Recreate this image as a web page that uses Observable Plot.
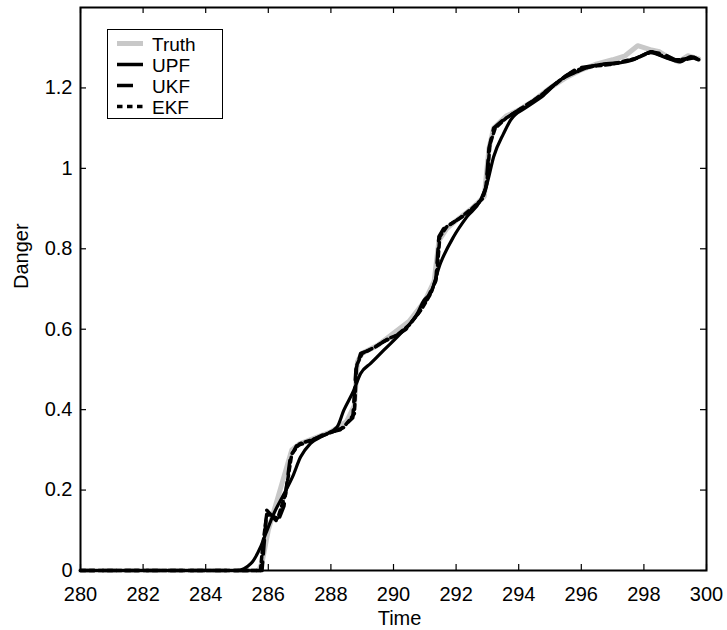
<!DOCTYPE html>
<html>
<head>
<meta charset="utf-8">
<script src="https://cdn.jsdelivr.net/npm/d3@7"></script>
<script src="https://cdn.jsdelivr.net/npm/@observablehq/plot@0.6"></script>
<style>
  html, body { margin: 0; padding: 0; background: #fff; }
  #wrap { position: relative; width: 727px; height: 630px; font-family: "Liberation Sans", Arial, sans-serif; }
  #legend { position: absolute; left: 107px; top: 29px; width: 114px; height: 88px; border: 1.5px solid #000; background: #fff; }
</style>
</head>
<body>
<div id="wrap"></div>
<script>
// ---- data ----
const xTicks = [280, 282, 284, 286, 288, 290, 292, 294, 296, 298, 300];
const yTicks = [0, 0.2, 0.4, 0.6, 0.8, 1, 1.2];
const yTickLabels = ["0", "0.2", "0.4", "0.6", "0.8", "1", "1.2"];

const seriesNames = ["Truth", "UPF", "UKF", "EKF"];

const truthT = [280, 285.7, 285.8, 286.0, 286.3, 286.6, 286.75, 287.0, 287.5, 288.0, 288.5, 288.75, 288.85, 289.0, 289.5, 290.0, 290.5, 291.0, 291.3, 291.45, 291.7, 292.0, 292.5, 292.9, 293.05, 293.2, 293.6, 294.0, 294.5, 295.0, 295.5, 296.0, 296.5, 297.0, 297.4, 297.8, 298.2, 298.5, 298.8, 299.1, 299.4, 299.75];
const truthV = [0, 0, 0.02, 0.1, 0.18, 0.26, 0.3, 0.315, 0.33, 0.345, 0.37, 0.41, 0.52, 0.54, 0.56, 0.59, 0.62, 0.67, 0.72, 0.82, 0.85, 0.87, 0.9, 0.93, 1.05, 1.1, 1.13, 1.145, 1.17, 1.2, 1.225, 1.245, 1.26, 1.27, 1.28, 1.305, 1.295, 1.29, 1.275, 1.265, 1.28, 1.272];

const upfT = [280, 285.0, 285.44, 285.75, 285.92, 286.18, 286.5, 286.77, 287.03, 287.35, 287.77, 288.2, 288.41, 288.73, 288.95, 289.27, 289.69, 290.22, 290.76, 290.97, 291.18, 291.5, 291.92, 292.35, 292.78, 292.99, 293.2, 293.52, 293.74, 294.27, 294.8, 295.33, 295.86, 296.5, 297.14, 297.67, 298.2, 298.74, 299.16, 299.5, 299.74];
const upfV = [0, 0, 0.017, 0.058, 0.092, 0.142, 0.19, 0.232, 0.282, 0.316, 0.336, 0.357, 0.398, 0.448, 0.49, 0.515, 0.548, 0.589, 0.639, 0.672, 0.689, 0.764, 0.83, 0.88, 0.921, 0.963, 1.029, 1.087, 1.12, 1.153, 1.182, 1.22, 1.24, 1.257, 1.261, 1.27, 1.288, 1.274, 1.265, 1.278, 1.271];

const ukfT = [280, 285.8, 285.85, 285.95, 286.3, 286.5, 286.7, 286.9, 287.3, 287.8, 288.3, 288.7, 288.8, 288.95, 289.3, 289.7, 290.0, 290.4, 290.8, 291.1, 291.35, 291.45, 291.6, 292.0, 292.4, 292.8, 292.95, 293.05, 293.2, 293.5, 294.0, 294.5, 295.0, 295.5, 295.9, 296.4, 296.8, 297.2, 297.7, 298.2, 298.6, 299.0, 299.3, 299.6, 299.75];
const ukfV = [0, 0, 0.05, 0.15, 0.12, 0.16, 0.28, 0.31, 0.32, 0.34, 0.35, 0.38, 0.5, 0.54, 0.55, 0.57, 0.58, 0.6, 0.64, 0.68, 0.72, 0.83, 0.85, 0.87, 0.89, 0.92, 0.95, 1.05, 1.1, 1.12, 1.145, 1.17, 1.2, 1.23, 1.25, 1.255, 1.26, 1.262, 1.272, 1.29, 1.285, 1.27, 1.27, 1.275, 1.27];

const ekfT = [280, 285.75, 285.82, 285.95, 286.3, 286.55, 286.75, 287.0, 287.4, 287.9, 288.4, 288.75, 288.82, 289.0, 289.4, 289.8, 290.1, 290.5, 290.9, 291.2, 291.38, 291.48, 291.7, 292.1, 292.5, 292.85, 292.98, 293.08, 293.25, 293.6, 294.1, 294.6, 295.1, 295.6, 296.0, 296.5, 296.9, 297.3, 297.8, 298.25, 298.6, 299.0, 299.3, 299.6, 299.75];
const ekfV = [0, 0, 0.06, 0.14, 0.13, 0.19, 0.29, 0.315, 0.325, 0.34, 0.355, 0.39, 0.51, 0.54, 0.555, 0.575, 0.585, 0.61, 0.65, 0.69, 0.73, 0.83, 0.855, 0.875, 0.9, 0.925, 0.96, 1.06, 1.1, 1.125, 1.15, 1.175, 1.205, 1.235, 1.248, 1.255, 1.258, 1.265, 1.275, 1.29, 1.28, 1.268, 1.272, 1.276, 1.27];

// ---- build tables ----
const zip = (ts, vs) => ts.map((t, i) => ({t, v: vs[i]}));
const truth = zip(truthT, truthV);
const upf = zip(upfT, upfV);
const ukf = zip(ukfT, ukfV);
const ekf = zip(ekfT, ekfV);

const W = 727, H = 630;
const mL = 80, mR = 21, mT = 7, mB = 60;
const frameW = W - mL - mR, frameH = H - mT - mB;
const tickLen = 6;
const font = "Liberation Sans, Arial, sans-serif";

const chart = Plot.plot({
  width: W,
  height: H,
  marginLeft: mL,
  marginRight: mR,
  marginTop: mT,
  marginBottom: mB,
  style: {fontFamily: font, background: "#fff", color: "#000"},
  x: {domain: [280, 300]},
  y: {domain: [0, 1.4]},
  marks: [
    Plot.line(truth, {x: "t", y: "v", stroke: "#c8c8c8", strokeWidth: 5}),
    Plot.line(upf, {x: "t", y: "v", stroke: "#000", strokeWidth: 3.2, curve: "monotone-x"}),
    Plot.line(ukf, {x: "t", y: "v", stroke: "#000", strokeWidth: 3.5, strokeDasharray: "14,8"}),
    Plot.line(ekf, {x: "t", y: "v", stroke: "#000", strokeWidth: 3.5, strokeDasharray: "5,4"}),
    // inward ticks on all four sides
    Plot.tickX(xTicks, {x: d => d, stroke: "#000", strokeWidth: 1.2, insetTop: frameH - tickLen}),
    Plot.tickX(xTicks, {x: d => d, stroke: "#000", strokeWidth: 1.2, insetBottom: frameH - tickLen}),
    Plot.tickY(yTicks, {y: d => d, stroke: "#000", strokeWidth: 1.2, insetRight: frameW - tickLen}),
    Plot.tickY(yTicks, {y: d => d, stroke: "#000", strokeWidth: 1.2, insetLeft: frameW - tickLen}),
    Plot.axisX(xTicks, {anchor: "bottom", tickSize: 0, tickPadding: 16, fontSize: 20, label: null, tickFormat: d => String(d)}),
    Plot.axisY(yTicks, {anchor: "left", tickSize: 0, tickPadding: 8, fontSize: 20, label: null, tickFormat: (d, i) => yTickLabels[yTicks.indexOf(d)]}),
    Plot.frame({stroke: "#000", strokeWidth: 2}),
    Plot.text(["Time"], {frameAnchor: "bottom", dy: 48, dx: 6, text: d => d, fontSize: 20, lineAnchor: "middle", fill: "#000"}),
    Plot.text(["Danger"], {frameAnchor: "left", dx: -58.5, text: d => d, fontSize: 20, rotate: -90, lineAnchor: "middle", fill: "#000"})
  ]
});

const wrap = document.getElementById("wrap");
wrap.appendChild(chart);

// legend (inside the plot area, top-left)
const legend = document.createElement("div");
legend.id = "legend";
const styles = {
  Truth: {stroke: "#c8c8c8", width: 5, dash: null},
  UPF: {stroke: "#000", width: 3.5, dash: null},
  UKF: {stroke: "#000", width: 3.5, dash: "16,10"},
  EKF: {stroke: "#000", width: 3.5, dash: "5.5,4.5"}
};
const ns = "http://www.w3.org/2000/svg";
const lsvg = document.createElementNS(ns, "svg");
lsvg.setAttribute("width", 114);
lsvg.setAttribute("height", 88);
lsvg.style.display = "block";
seriesNames.forEach((name, i) => {
  const cy = 13.5 + i * 21;
  const s = styles[name];
  const ln = document.createElementNS(ns, "line");
  ln.setAttribute("x1", 9); ln.setAttribute("x2", 35);
  ln.setAttribute("y1", cy); ln.setAttribute("y2", cy);
  ln.setAttribute("stroke", s.stroke);
  ln.setAttribute("stroke-width", s.width);
  if (s.dash) ln.setAttribute("stroke-dasharray", s.dash);
  lsvg.appendChild(ln);
  const tx = document.createElementNS(ns, "text");
  tx.setAttribute("x", 44);
  tx.setAttribute("y", cy + 7);
  tx.setAttribute("font-size", 19);
  tx.setAttribute("font-family", font);
  tx.textContent = name;
  lsvg.appendChild(tx);
});
legend.appendChild(lsvg);
wrap.appendChild(legend);
</script>
</body>
</html>
